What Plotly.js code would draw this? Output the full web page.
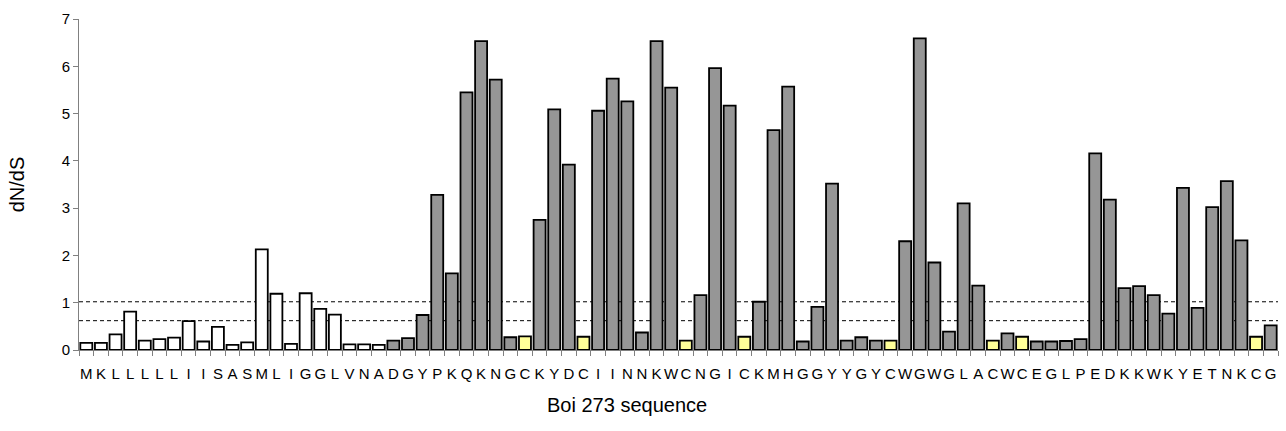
<!DOCTYPE html>
<html>
<head>
<meta charset="utf-8">
<script src="https://cdn.plot.ly/plotly-3.0.1.min.js"></script>
<style>html,body{margin:0;padding:0;background:#fff;}#chart{width:1286px;height:431px;}</style>
</head>
<body>
<div id="chart"></div>
<script>
// Residues of the Boi 273 sequence (x-axis tick labels)
const residues = ["M","K","L","L","L","L","L","I","I","S","A","S","M","L","I","G","G","L","V","N","A",
  "D","G","Y","P","K","Q","K","N","G","C","K","Y","D","C","I","I","N","N","K","W","C","N","G","I","C",
  "K","M","H","G","G","Y","Y","G","Y","C","W","G","W","G","L","A","C","W","C","E","G","L","P","E","D",
  "K","K","W","K","Y","E","T","N","K","C","G"];

// dN/dS value per residue
const dnds = [0.15,0.15,0.33,0.81,0.20,0.23,0.26,0.61,0.18,0.49,0.11,0.16,2.13,1.19,0.13,1.20,0.87,0.75,0.12,0.12,0.11,
  0.20,0.25,0.74,3.28,1.62,5.45,6.53,5.72,0.27,0.29,2.75,5.09,3.92,0.28,5.06,5.74,5.26,0.37,6.53,5.55,0.20,1.16,5.96,5.17,0.28,
  1.02,4.65,5.57,0.18,0.91,3.52,0.20,0.27,0.20,0.20,2.30,6.59,1.85,0.39,3.10,1.36,0.20,0.35,0.28,0.18,0.18,0.19,0.23,4.16,3.18,
  1.31,1.35,1.16,0.77,3.43,0.89,3.02,3.57,2.32,0.28,0.52];

// number of leading residues (signal region, drawn white)
const signalLength = 21;

// reference threshold lines (dashed)
const thresholds = [1.02, 0.62];

const positions = residues.map((r, i) => i);
const colors = residues.map((r, i) => i < signalLength ? '#FFFFFF' : (r === 'C' ? '#FFFF99' : '#969696'));

const font = 'Liberation Sans, Arial, sans-serif';

const trace = {
  type: 'bar',
  x: positions,
  y: dnds,
  marker: {color: colors, line: {color: '#000000', width: 1.8}},
  hoverinfo: 'x+y'
};

const shapes = thresholds.map(t => ({
  type: 'line', xref: 'paper', x0: 0, x1: 1, yref: 'y', y0: t, y1: t,
  line: {color: '#000000', width: 1, dash: '4px,3px'}, layer: 'below'
}));

const layout = {
  width: 1286, height: 431,
  margin: {l: 79, r: 8, t: 19, b: 81},
  paper_bgcolor: '#ffffff', plot_bgcolor: '#ffffff',
  font: {family: font, color: '#000000'},
  bargap: 0.18,
  showlegend: false,
  xaxis: {
    range: [-0.5, residues.length - 0.5],
    tickmode: 'array', tickvals: positions, ticktext: residues,
    ticks: 'outside', ticklen: 10, tickcolor: 'rgba(0,0,0,0)',
    tickfont: {size: 15, family: font, color: '#000000'},
    tickangle: 0,
    minor: {tickmode: 'linear', tick0: -0.5, dtick: 1, ticks: 'outside', ticklen: 5, tickcolor: '#808080', tickwidth: 1, showgrid: false},
    showline: true, linecolor: '#808080', linewidth: 1,
    showgrid: false, zeroline: false, fixedrange: true
  },
  yaxis: {
    range: [0, 7], dtick: 1, tick0: 0,
    ticks: 'outside', ticklen: 5, tickcolor: '#808080', tickwidth: 1,
    tickfont: {size: 15, family: font, color: '#000000'},
    showline: true, linecolor: '#808080', linewidth: 1,
    showgrid: false, zeroline: false,
    title: {text: 'dN/dS', font: {size: 20, family: font, color: '#000000'}, standoff: 31}
  },
  shapes: shapes,
  annotations: [{
    text: 'Boi 273 sequence', xref: 'paper', yref: 'paper',
    x: 0.457, y: -0.165, xanchor: 'center', yanchor: 'middle', showarrow: false,
    font: {size: 20, family: font, color: '#000000'}
  }]
};

Plotly.newPlot('chart', [trace], layout, {displayModeBar: false, staticPlot: true});
</script>
</body>
</html>
